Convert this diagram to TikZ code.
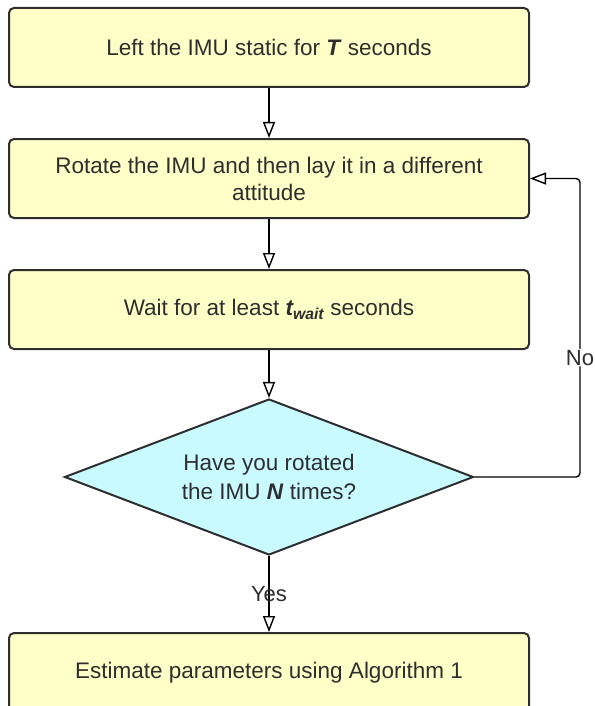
\documentclass[tikz,border=0pt]{standalone}
\usepackage{fontspec}
\setmainfont{Liberation Sans}
\usetikzlibrary{positioning,shapes.geometric,arrows.meta}
\definecolor{boxfill}{HTML}{FFFFC8}
\definecolor{askfill}{HTML}{C8FAFF}
\definecolor{inkgray}{HTML}{2E2E2E}

\begin{document}
\begin{tikzpicture}[
            x=1pt, y=1pt,
            node distance=50pt,
            task box/.style={rectangle, rounded corners=5pt, draw=inkgray, line width=2pt, fill=boxfill,
                minimum width=520pt, minimum height=79pt, inner sep=0pt, align=center,
                font=\fontsize{22.5}{27}\selectfont, text=inkgray},
            question/.style={diamond, shape aspect=2.62, draw=inkgray, line width=2pt, fill=askfill,
                minimum width=409pt, minimum height=156pt, inner sep=0pt, align=center,
                font=\fontsize{22.5}{29}\selectfont, text=inkgray},
            every edge/.style={draw, line width=1.4pt, -{Triangle[open,length=16pt,width=12pt]}},
            flow/.style={draw, line width=1.4pt, -{Triangle[open,length=16pt,width=12pt]}},
            edge label/.style={font=\fontsize{22}{26}\selectfont, text=inkgray, inner sep=1pt},
        ]
            \useasboundingbox (0,0) rectangle (594,-706);

            \node[task box] (rest) at (269,-47.5) {Left the IMU static for \textbf{\textit{T}} seconds};
            \node[task box, below=of rest] (rotate) {Rotate the IMU and then lay it in a different\\attitude};
            \node[task box, below=of rotate] (wait) {Wait for at least \textbf{\textit{t\textsubscript{wait}}} seconds};
            \node[question, below=48pt of wait] (check) {Have you rotated\\the IMU \textbf{\textit{N}} times?};
            \node[task box, below=76pt of check] (estimate) {Estimate parameters using Algorithm 1};
            \coordinate (loop) at (580,0);

            \path (rest) edge (rotate);
            \path (rotate) edge (wait);
            \path (wait) edge (check);
            \path (check) edge node[edge label] {Yes} (estimate);

            \draw[flow, rounded corners=4pt] (check.east) -| node[pos=0.7, edge label, fill=white] {No}
                (loop |- rotate.east) -- (rotate.east);
        \end{tikzpicture}
\end{document}
